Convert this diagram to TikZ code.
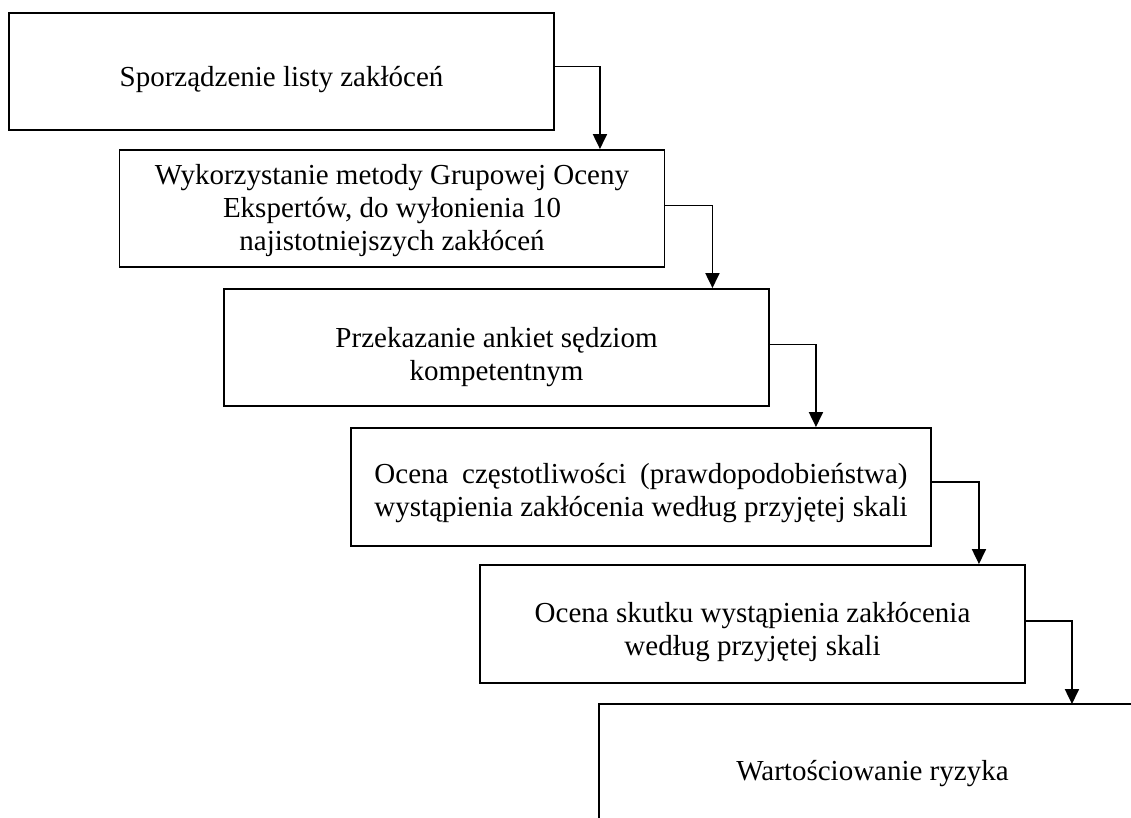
\documentclass[tikz,border=0pt]{standalone}
\usepackage{fontspec}
\setmainfont{Liberation Serif}
\usepackage{calc}
\usetikzlibrary{arrows.meta}
\begin{document}
\begin{tikzpicture}[x=1pt,y=-1pt,
  box/.style={draw, line width=1.9pt, minimum width=545pt, minimum height=117pt, inner sep=0pt},
  openbox/.style={box, draw=none},
  txt/.style={inner sep=0pt, align=center, font=\fontsize{29pt}{33pt}\selectfont},
  edge/.style={line width=1.9pt},
  conn/.style={line width=1.9pt, -{Triangle[width=14pt,length=15pt]}}]
\useasboundingbox (0,0) rectangle (1131,817);
\clip (0,0) rectangle (1131,817);
\fill[white] (0,0) rectangle (1131,817);

\node[box] (b1) at (281.5,71.5) {};
\node[txt] (l1) at ([yshift=-8pt]b1.center) {Sporządzenie listy zakłóceń};
\node[box] (b2) at (392,208.5) {};
\node[txt] (l2) at ([yshift=-2pt]b2.center) {Wykorzystanie metody Grupowej Oceny\\Ekspertów, do wyłonienia 10\\najistotniejszych zakłóceń};
\node[box] (b3) at (496.5,347.5) {};
\node[txt] (l3) at ([yshift=-10pt]b3.center) {Przekazanie ankiet sędziom\\kompetentnym};
\node[box, minimum width=580pt, minimum height=118pt] (b4) at (641,487) {};
\node[txt] (l4) at ([yshift=-6pt]b4.center)
  {\makebox[\widthof{wystąpienia zakłócenia według przyjętej skali}][s]{Ocena częstotliwości (prawdopodobieństwa)}\\wystąpienia zakłócenia według przyjętej skali};
\node[box, minimum height=118pt] (b5) at (752.5,624) {};
\node[txt] (l5) at ([yshift=-8pt]b5.center) {Ocena skutku wystąpienia zakłócenia\\według przyjętej skali};
\node[openbox] (b6) at (872.5,763.5) {};
\node[txt] (l6) at ([yshift=-10pt]b6.center) {Wartościowanie ryzyka};
\draw[edge] (b6.north east) -- (b6.north west) -- (b6.south west);

\draw[conn] ([yshift=5pt]b1.east) -- ++(45,0) coordinate (t1) -- (t1 |- b2.north);
\draw[conn] ([yshift=3pt]b2.east) -- ++(47,0) coordinate (t2) -- (t2 |- b3.north);
\draw[conn] ([yshift=3pt]b3.east) -- ++(46,0) coordinate (t3) -- (t3 |- b4.north);
\draw[conn] ([yshift=5pt]b4.east) -- ++(47,0) coordinate (t4) -- (t4 |- b5.north);
\draw[conn] ([yshift=3pt]b5.east) -- ++(46,0) coordinate (t5) -- (t5 |- b6.north);
\end{tikzpicture}
\end{document}
